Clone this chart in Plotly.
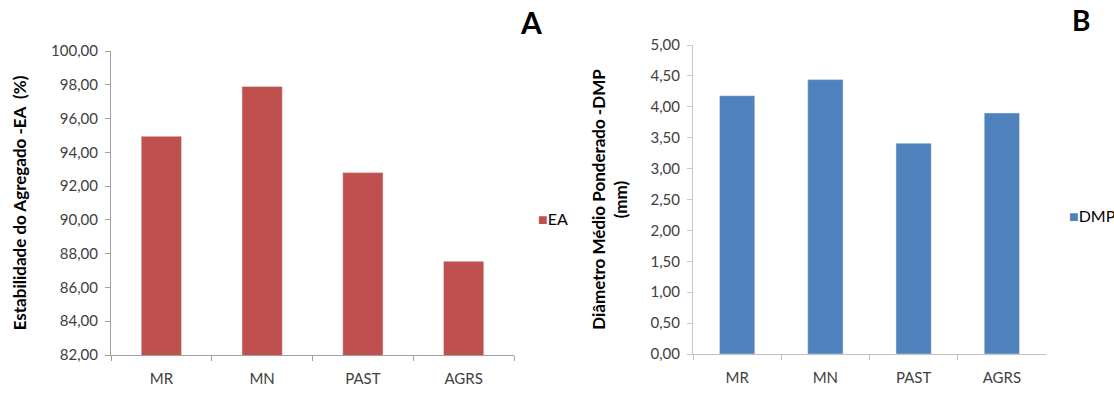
import plotly.graph_objects as go

categories = ["MR", "MN", "PAST", "AGRS"]
ea_values = [94.95, 97.90, 92.80, 87.55]
dmp_values = [4.18, 4.44, 3.41, 3.90]
ea_ticks = [82, 84, 86, 88, 90, 92, 94, 96, 98, 100]
dmp_ticks = [0, 0.5, 1, 1.5, 2, 2.5, 3, 3.5, 4, 4.5, 5]

W, H = 1114, 394
FONT = "Lato"
TXT = "#404040"
RED = "#C0504D"
BLUE = "#4F81BD"

fig = go.Figure()
fig.add_trace(go.Bar(x=categories, y=ea_values, name="EA", marker_color=RED,
                     xaxis="x", yaxis="y"))
fig.add_trace(go.Bar(x=categories, y=dmp_values, name="DMP", marker_color=BLUE,
                     xaxis="x2", yaxis="y2"))

def px_x(a, b):
    return [a / W, b / W]

def px_y(top, bottom):
    return [1 - bottom / H, 1 - top / H]

common_x = dict(showline=True, ticks="outside", ticklen=5, tickson="boundaries",
                showgrid=False, tickfont=dict(family=FONT, size=15, color=TXT),
                ticklabelstandoff=10, fixedrange=True, automargin=False)
common_y = dict(showline=True, ticks="outside", ticklen=5, showgrid=False, zeroline=False,
                tickformat=".2f", tickfont=dict(family=FONT, size=15, color=TXT),
                ticklabelstandoff=4, automargin=False)

def legend_item(label, color, x, y):
    return dict(text=f"<span style='color:{color}'>■</span>{label}",
                x=x / W, y=1 - y / H, xref="paper", yref="paper",
                xanchor="left", yanchor="middle", showarrow=False,
                font=dict(family=FONT, size=16, color="black"))

fig.update_layout(
    width=W, height=H, margin=dict(l=0, r=0, t=0, b=0, autoexpand=False),
    paper_bgcolor="white", plot_bgcolor="white",
    separators=",.", bargap=0.6, showlegend=False,
    xaxis=dict(domain=px_x(111, 514), anchor="y", linecolor="#a0a0a0", tickcolor="#a0a0a0",
               **common_x),
    yaxis=dict(domain=px_y(51, 355), anchor="x", range=[82, 100], tickvals=ea_ticks,
               linecolor="#a0a0a0", tickcolor="#a0a0a0",
               title=dict(text="Estabilidade do Agregado -EA  (%)",
                          font=dict(family=FONT, size=17, color="black", weight="bold"),
                          standoff=20),
               **common_y),
    xaxis2=dict(domain=px_x(693, 1046), anchor="y2", linecolor="#c0c0c0", tickcolor="#c0c0c0",
                **common_x),
    yaxis2=dict(domain=px_y(45, 354), anchor="x2", range=[0, 5], tickvals=dmp_ticks,
                linecolor="#c8c8c8", tickcolor="#c8c8c8",
                title=dict(text="Diâmetro Médio Ponderado -DMP<br>(mm)",
                           font=dict(family=FONT, size=17, color="black", weight="bold"),
                           standoff=18),
                **common_y),
    annotations=[
        dict(text="<b>A</b>", x=531 / W, y=1 - 22 / H, xref="paper", yref="paper",
             xanchor="center", yanchor="middle",
             showarrow=False, font=dict(family=FONT, size=30, color="black")),
        dict(text="<b>B</b>", x=1081 / W, y=1 - 20 / H, xref="paper", yref="paper",
             xanchor="center", yanchor="middle",
             showarrow=False, font=dict(family=FONT, size=28, color="black")),
        legend_item("EA", RED, 536, 218),
        legend_item("DMP", BLUE, 1067, 215),
    ],
)

fig.write_html("out.html")
